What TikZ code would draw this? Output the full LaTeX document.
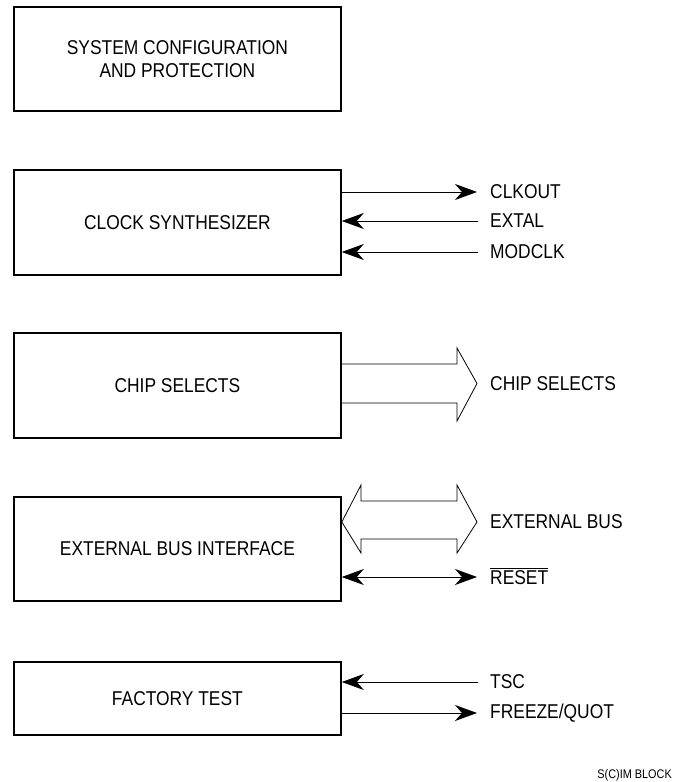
\documentclass[tikz,border=0pt]{standalone}
\usepackage{fontspec}
\setmainfont{Liberation Sans}[FakeStretch=0.87]
\usetikzlibrary{arrows.meta}
\newcommand{\ovbar}[1]{\leavevmode\vbox{\hrule height 0.8pt\kern1.6pt\hbox{#1}}}
\begin{document}
\begin{tikzpicture}[x=1pt,y=-1pt,
  blk/.style={draw,line width=1.8pt,minimum width=327pt,anchor=north west,inner sep=0pt,align=center,font=\fontsize{20}{23.3}\selectfont},
  lbl/.style={anchor=west,inner sep=0pt,font=\fontsize{20}{23}\selectfont},
  sig/.style={line width=0.8pt},
  tip/.style={-{Stealth[length=22pt,width=16pt,inset=7pt]}},
  btip/.style={{Stealth[length=22pt,width=16pt,inset=7pt]}-{Stealth[length=22pt,width=16pt,inset=7pt]}},
  ltip/.style={{Stealth[length=22pt,width=16pt,inset=7pt]}-},
  fat/.style={line width=0.8pt,line join=miter}]
\useasboundingbox (0,0) rectangle (673,782);
\node[blk,minimum height=104pt] (sys) at (13,6) {SYSTEM CONFIGURATION\\AND PROTECTION};
\node[blk,minimum height=105pt] (clk) at (13,169) {CLOCK SYNTHESIZER};
\node[blk,minimum height=105pt] (cs) at (13,332) {CHIP SELECTS};
\node[blk,minimum height=104pt] (ebi) at (13,496) {EXTERNAL BUS INTERFACE};
\node[blk,minimum height=73pt] (ft) at (13,661) {FACTORY TEST};

% clock signals
\node[lbl] (clkout) at (490,192) {CLKOUT};
\node[lbl] (extal) at (490,221) {EXTAL};
\node[lbl] (modclk) at (490,252) {MODCLK};
\coordinate (clkoutE) at (477,192);
\coordinate (extalE) at (478,221);
\coordinate (modclkE) at (478,252);
\draw[sig,tip] (clk.east |- clkoutE) -- (clkoutE);
\draw[sig,ltip] (clk.east |- extalE) -- (extalE);
\draw[sig,ltip] (clk.east |- modclkE) -- (modclkE);

% chip selects fat arrow
\node[lbl] (csl) at (490,384) {CHIP SELECTS};
\draw[fat] (cs.east |- 0,364) -- (457,364) -- (457,348) -- (477,383.5) -- (457,421) -- (457,403) -- (cs.east |- 0,403);

% external bus double fat arrow
\node[lbl] (ebl) at (490,522) {EXTERNAL BUS};
\draw[fat] (ebi.east |- 0,522) -- (361,485) -- (361,501) -- (457,501) -- (457,485) -- (477,522) -- (457,553) -- (457,539) -- (361,539) -- (361,553) -- cycle;

% reset
\node[lbl,anchor=base west] (rst) at (490,584) {\ovbar{RESET}};
\coordinate (rstE) at (477,577);
\draw[sig,btip] (ebi.east |- rstE) -- (rstE);

% factory test
\node[lbl] (tsc) at (490,682) {TSC};
\node[lbl] (frz) at (490,713) {FREEZE/QUOT};
\coordinate (tscE) at (478,682);
\coordinate (frzE) at (477,713);
\draw[sig,ltip] (ft.east |- tscE) -- (tscE);
\draw[sig,tip] (ft.east |- frzE) -- (frzE);

\node[anchor=base east,inner sep=0pt,font=\fontsize{12.5}{14}\selectfont] (blk) at (672,778) {S(C)IM BLOCK};
\end{tikzpicture}
\end{document}
